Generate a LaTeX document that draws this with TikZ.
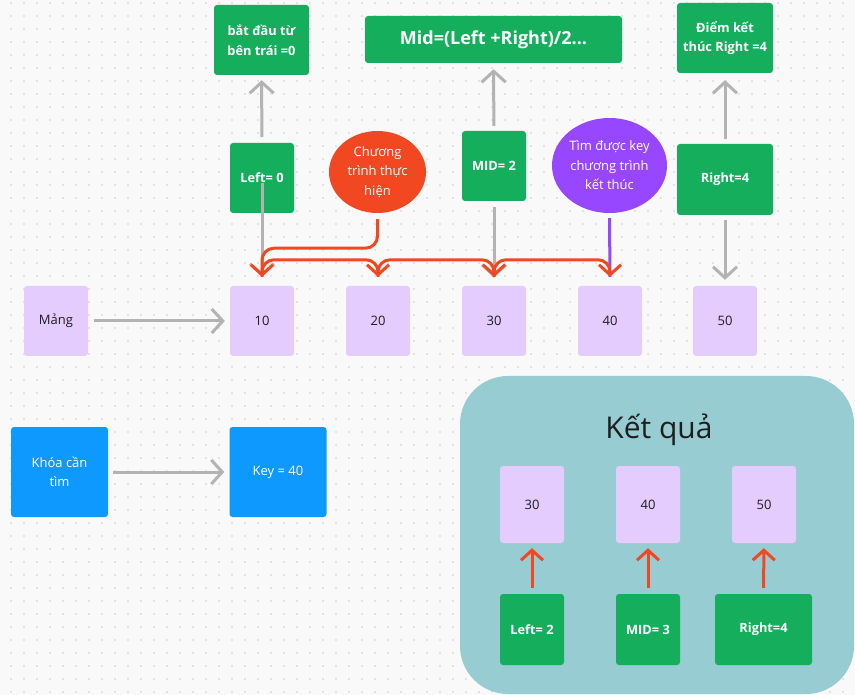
\documentclass[tikz,border=0pt]{standalone}
\usepackage{fontspec}
\setmainfont{Open Sans}
\usetikzlibrary{arrows.meta,shapes.geometric}

\definecolor{bg}{RGB}{249,249,249}
\definecolor{dot}{RGB}{205,205,205}
\definecolor{grn}{HTML}{14AE5C}
\definecolor{lil}{HTML}{E4CCFF}
\definecolor{blu}{HTML}{0D99FF}
\definecolor{org}{HTML}{F24822}
\definecolor{vio}{HTML}{9747FF}
\definecolor{gry}{RGB}{179,179,179}
\definecolor{tea}{RGB}{151,205,210}
\definecolor{ink}{RGB}{30,30,30}

\begin{document}
\begin{tikzpicture}[x=1pt,y=-1pt,
    box/.style={rounded corners=3pt, inner sep=0pt, align=center, minimum width=64pt, minimum height=70pt},
    grnbox/.style={box, fill=grn, text=white, font=\bfseries\fontsize{12.8}{19.5}\selectfont},
    cell/.style={box, fill=lil, text=ink, font=\fontsize{13}{15}\selectfont},
    bluebox/.style={box, fill=blu, text=white, font=\fontsize{13}{19.5}\selectfont, minimum width=97pt, minimum height=90pt},
    bubble/.style={ellipse, inner sep=0pt, align=center, text=white, font=\fontsize{13}{19.5}\selectfont},
    garr/.style={draw=gry, line width=3pt, -{Straight Barb[length=11pt,width=24pt]}},
    oarr/.style={draw=org, line width=3pt, rounded corners=12pt, -{Straight Barb[length=10pt,width=22pt]}}
  ]
    % background
    \fill[bg] (0,0) rectangle (855,695);
    \useasboundingbox (0,0) rectangle (855,695);
    \foreach \i in {0,...,65}{
        \foreach \j in {0,...,53}{
            \fill[dot] (11+13*\i,3+13*\j) circle (0.8pt);
        }
    }

    % top notes
    \node[grnbox, minimum width=95pt] (start) at (261.5,40) {bắt đầu từ\\bên trái =0};
    \node[grnbox, minimum width=257pt, minimum height=47pt, font=\bfseries\fontsize{18}{22}\selectfont] (formula) at (493.5,39.5) {Mid=(Left +Right)/2...};
    \node[grnbox, minimum width=96pt] (end) at (725,38) {Điểm kết\\thúc Right =4};

    % pointers
    \node[grnbox] (left) at (262,178) {Left= 0};
    \node[grnbox] (mid) at (494,166) {MID= 2};
    \node[grnbox, minimum width=96pt, minimum height=71pt] (right) at (725,179.5) {Right=4};
    \node[bubble, fill=org, minimum width=97pt, minimum height=82pt] (prog) at (377.5,172) {Chương\\trình thực\\hiện};
    \node[bubble, fill=vio, minimum width=115pt, minimum height=95pt] (found) at (609.5,165.5) {Tìm được key\\chương trình\\kết thúc};

    % array
    \node[cell] (arr) at (56,321) {Mảng};
    \foreach \v/\x in {10/262,20/378,30/494,40/610,50/725}{
        \node[cell] (c\v) at (\x,321) {\v};
    }

    % key
    \node[bluebox] (khoa) at (59.5,472) {Khóa cần\\tìm};
    \node[bluebox] (key) at (278,472) {Key = 40};

    % gray arrows
    \draw[garr, shorten <=6pt, shorten >=5pt] (left) -- (start);
    \draw[garr, shorten <=5pt, shorten >=6pt] (mid) -- (formula);
    \draw[garr, shorten <=5pt, shorten >=7pt] (right) -- (end);
    \draw[garr, shorten >=9pt] ([yshift=-5pt]left.center) -- (c10.north);
    \draw[garr, shorten <=6pt, shorten >=8pt] (mid.south) -- (c30.north);
    \draw[garr, shorten <=5pt, shorten >=6pt] (right) -- (c50);
    \draw[garr, shorten <=6pt, shorten >=5pt] (arr) -- (c10);
    \draw[garr, shorten <=5pt, shorten >=5pt] (khoa) -- (key);
    \draw[vio, line width=3pt] ([yshift=-5pt]found.south) -- ([yshift=9pt]c40.north);

    % orange path
    \draw[oarr] ([yshift=-6pt]prog.south) -- ++(0,29) -| ([yshift=9pt]c10.north);
    \draw[oarr] ([yshift=9pt]c10.north) -- ++(0,-17) -| ([yshift=9pt]c20.north);
    \draw[oarr] ([yshift=9pt]c20.north) -- ++(0,-17) -| ([yshift=9pt]c30.north);
    \draw[oarr] ([yshift=9pt]c30.north) -- ++(0,-17) -| ([yshift=9pt]c40.north);

    % result
    \node[fill=tea, rounded corners=48pt, minimum width=394pt, minimum height=318pt] (panel) at (657,535) {};
    \node[text=ink, font=\fontsize{30}{36}\selectfont] (title) at (659,430) {Kết quả};
    \foreach \n/\v/\x in {r30/30/532,r40/40/648,r50/50/764}{
        \node[cell, minimum height=77pt] (\n) at (\x,504.5) {\v};
    }
    \node[grnbox, minimum height=71pt] (rleft) at (532,629.5) {Left= 2};
    \node[grnbox, minimum height=71pt] (rmid) at (648,629.5) {MID= 3};
    \node[grnbox, minimum width=97pt, minimum height=71pt] (rright) at (763.5,629.5) {Right=4};
    \draw[oarr, shorten <=6pt, shorten >=5pt] (rleft) -- (r30);
    \draw[oarr, shorten <=6pt, shorten >=5pt] (rmid) -- (r40);
    \draw[oarr, shorten <=6pt, shorten >=5pt] (rright) -- (r50);
\end{tikzpicture}
\end{document}
